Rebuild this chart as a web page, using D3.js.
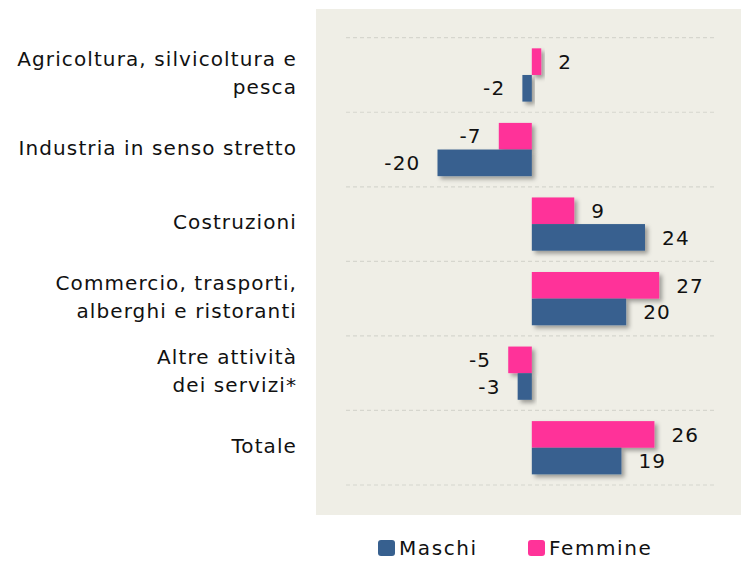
<!DOCTYPE html>
<html>
<head>
<meta charset="utf-8">
<script src="https://cdn.jsdelivr.net/npm/d3@7"></script>
<style>
  body { margin: 0; background: #fff; }
  text { font-family: "DejaVu Sans", sans-serif; fill: #111; }
</style>
</head>
<body>
<div id="chart"></div>
<script>
const categories = [
  ["Agricoltura, silvicoltura e", "pesca"],
  ["Industria in senso stretto"],
  ["Costruzioni"],
  ["Commercio, trasporti,", "alberghi e ristoranti"],
  ["Altre attività", "dei servizi*"],
  ["Totale"]
];
const femmine = [2, -7, 9, 27, -5, 26];
const maschi = [-2, -20, 24, 20, -3, 19];
const seriesNames = ["Femmine", "Maschi"];
const legendNames = ["Maschi", "Femmine"];
const colors = { Maschi: "#37608f", Femmine: "#ff3399" };

const width = 741, height = 561;

const svg = d3.select("#chart").append("svg")
  .attr("width", width)
  .attr("height", height);

const defs = svg.append("defs");
const shadow = defs.append("filter")
  .attr("id", "barShadow")
  .attr("x", "-20%").attr("y", "-20%")
  .attr("width", "150%").attr("height", "160%");
shadow.append("feDropShadow")
  .attr("dx", 3).attr("dy", 3)
  .attr("stdDeviation", 2)
  .attr("flood-color", "#000")
  .attr("flood-opacity", 0.35);

// plot background
svg.append("rect")
  .attr("x", 316).attr("y", 9)
  .attr("width", width - 316).attr("height", 506)
  .attr("fill", "#efeee6");

const keys = categories.map((c, i) => i);

const y = d3.scaleBand()
  .domain(keys)
  .range([37.7, 485])
  .padding(0);

const ySub = d3.scaleBand()
  .domain(seriesNames)
  .range([0, y.bandwidth()])
  .paddingInner(0)
  .paddingOuter(0.4);

const x = d3.scaleLinear()
  .domain([-20, 24])
  .range([437.5, 645]);

// dashed gridlines at band boundaries
const gridY = keys.map(k => y(k)).concat([y(keys[keys.length - 1]) + y.bandwidth()]);
svg.append("g").selectAll("line")
  .data(gridY)
  .enter().append("line")
  .attr("x1", 346).attr("x2", 717)
  .attr("y1", d => d).attr("y2", d => d)
  .attr("stroke", "#d6d6ce")
  .attr("stroke-width", 1.2)
  .attr("stroke-dasharray", "4,3");

const rows = [];
keys.forEach(i => {
  rows.push({ cat: i, series: "Femmine", value: femmine[i] });
  rows.push({ cat: i, series: "Maschi", value: maschi[i] });
});

svg.append("g").selectAll("rect")
  .data(rows)
  .enter().append("rect")
  .attr("x", d => x(Math.min(0, d.value)))
  .attr("width", d => Math.abs(x(d.value) - x(0)))
  .attr("y", d => y(d.cat) + ySub(d.series))
  .attr("height", ySub.bandwidth())
  .attr("fill", d => colors[d.series])
  .attr("filter", "url(#barShadow)");

// value labels
svg.append("g").selectAll("text")
  .data(rows)
  .enter().append("text")
  .attr("x", d => d.value >= 0 ? x(d.value) + 17 : x(d.value) - 17)
  .attr("y", d => y(d.cat) + ySub(d.series) + ySub.bandwidth() / 2)
  .attr("dy", "0.36em")
  .attr("text-anchor", d => d.value >= 0 ? "start" : "end")
  .style("font-size", "20px")
  .style("letter-spacing", "1.2px")
  .text(d => d.value);

// category labels
const lineH = 28;
const catG = svg.append("g").selectAll("text")
  .data(categories)
  .enter().append("text")
  .attr("text-anchor", "end")
  .style("font-size", "20px")
  .style("letter-spacing", "1.1px");
catG.each(function(lines, i) {
  const cy = y(i) + y.bandwidth() / 2 - 2;
  const t = d3.select(this);
  lines.forEach((ln, j) => {
    t.append("tspan")
      .attr("x", 297)
      .attr("y", cy + (j - (lines.length - 1) / 2) * lineH)
      .attr("dy", "0.36em")
      .text(ln);
  });
});

// legend
const legendX = [378, 528];
const legend = svg.append("g").selectAll("g")
  .data(legendNames)
  .enter().append("g")
  .attr("transform", (d, i) => `translate(${legendX[i]},540)`);
legend.append("rect")
  .attr("width", 17).attr("height", 16)
  .attr("rx", 3)
  .attr("fill", d => colors[d]);
legend.append("text")
  .attr("x", 21).attr("y", 15)
  .style("font-size", "20px")
  .style("letter-spacing", "1.6px")
  .text(d => d);
</script>
</body>
</html>
